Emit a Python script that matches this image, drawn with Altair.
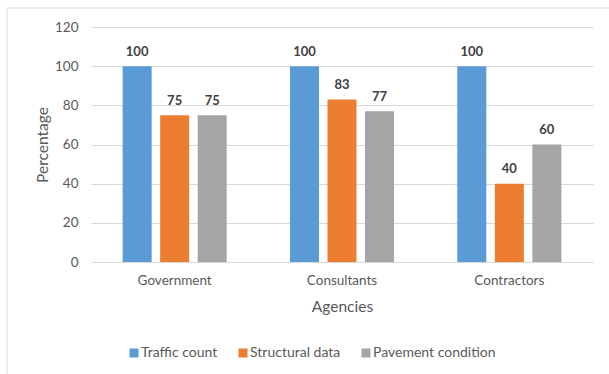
import altair as alt
import pandas as pd

# Share of agencies collecting each type of data
agencies = ["Government", "Consultants", "Contractors"]
series = ["Traffic count", "Structural data", "Pavement condition"]
traffic_count = [100, 100, 100]
structural_data = [75, 83, 40]
pavement_condition = [75, 77, 60]
colors = ["#5B9BD5", "#ED7D31", "#A5A5A5"]
y_ticks = [0, 20, 40, 60, 80, 100, 120]

rows = []
for i, agency in enumerate(agencies):
    for name, values in zip(series, [traffic_count, structural_data, pavement_condition]):
        rows.append({"Agency": agency, "Data": name, "Percentage": values[i]})
df = pd.DataFrame(rows)

FONT = "Lato"
TEXT = "#595959"
GRID = "#D9D9D9"
W, H = 502, 235

x_enc = alt.X(
    "Agency:N",
    sort=agencies,
    scale=alt.Scale(paddingInner=0.378, paddingOuter=0.189),
    axis=alt.Axis(
        title="Agencies",
        labelAngle=0,
        ticks=False,
        domain=False,
        labelPadding=11,
        labelFontSize=13.5,
        labelColor=TEXT,
        titleFontSize=15.5,
        titleFontWeight="normal",
        titleColor=TEXT,
        titleBaseline="alphabetic",
        titleY=49.5,
    ),
)
y_enc = alt.Y(
    "Percentage:Q",
    scale=alt.Scale(domain=[0, 120], nice=False),
    axis=alt.Axis(
        title="Percentage",
        values=y_ticks,
        ticks=False,
        domain=False,
        grid=True,
        gridColor=GRID,
        gridWidth=1,
        labelPadding=13,
        labelFontSize=13.5,
        labelColor=TEXT,
        titleFontSize=15.5,
        titleFontWeight="normal",
        titleColor=TEXT,
        titleBaseline="alphabetic",
        titleX=-44,
        titleY=H / 2,
    ),
)
x_off = alt.XOffset(
    "Data:N",
    sort=series,
    scale=alt.Scale(paddingInner=0.227, paddingOuter=0),
)

bars = alt.Chart(df).mark_bar().encode(
    x=x_enc,
    y=y_enc,
    xOffset=x_off,
    color=alt.Color(
        "Data:N",
        sort=series,
        scale=alt.Scale(domain=series, range=colors),
        legend=alt.Legend(
            title=None,
            orient="none",
            direction="horizontal",
            legendX=36,
            legendY=319,
            symbolType="square",
            symbolSize=81,
            symbolStrokeWidth=0,
            symbolOpacity=1,
            labelFontSize=14,
            labelColor=TEXT,
            labelOffset=0,
            columnPadding=18,
            padding=0,
        ),
    ),
)

labels = alt.Chart(df).mark_text(
    baseline="alphabetic",
    dy=-10.5,
    fontSize=13,
    fontWeight="bold",
    color="#404040",
    font=FONT,
).encode(
    x=x_enc,
    y=y_enc,
    xOffset=x_off,
    text=alt.Text("Percentage:Q"),
)

# Light frame around the chart area
frame_data = alt.Data(values=[{}])
frame_left = alt.Chart(frame_data).mark_rule(color=GRID, strokeWidth=1).encode(
    x=alt.value(-84), y=alt.value(-19), y2=alt.value(360)
)
frame_top = alt.Chart(frame_data).mark_rule(color=GRID, strokeWidth=1).encode(
    x=alt.value(-84), x2=alt.value(530), y=alt.value(-19)
)

chart = (
    alt.layer(frame_left, frame_top, bars, labels)
    .properties(
        width=W,
        height=H,
        autosize=alt.AutoSizeParams(type="none"),
        padding={"left": 91, "top": 27, "right": 16, "bottom": 112},
    )
    .configure(font=FONT, background="white")
    .configure_view(stroke=None)
)

chart.save("out.html", embed_options={"renderer": "svg", "actions": False})
